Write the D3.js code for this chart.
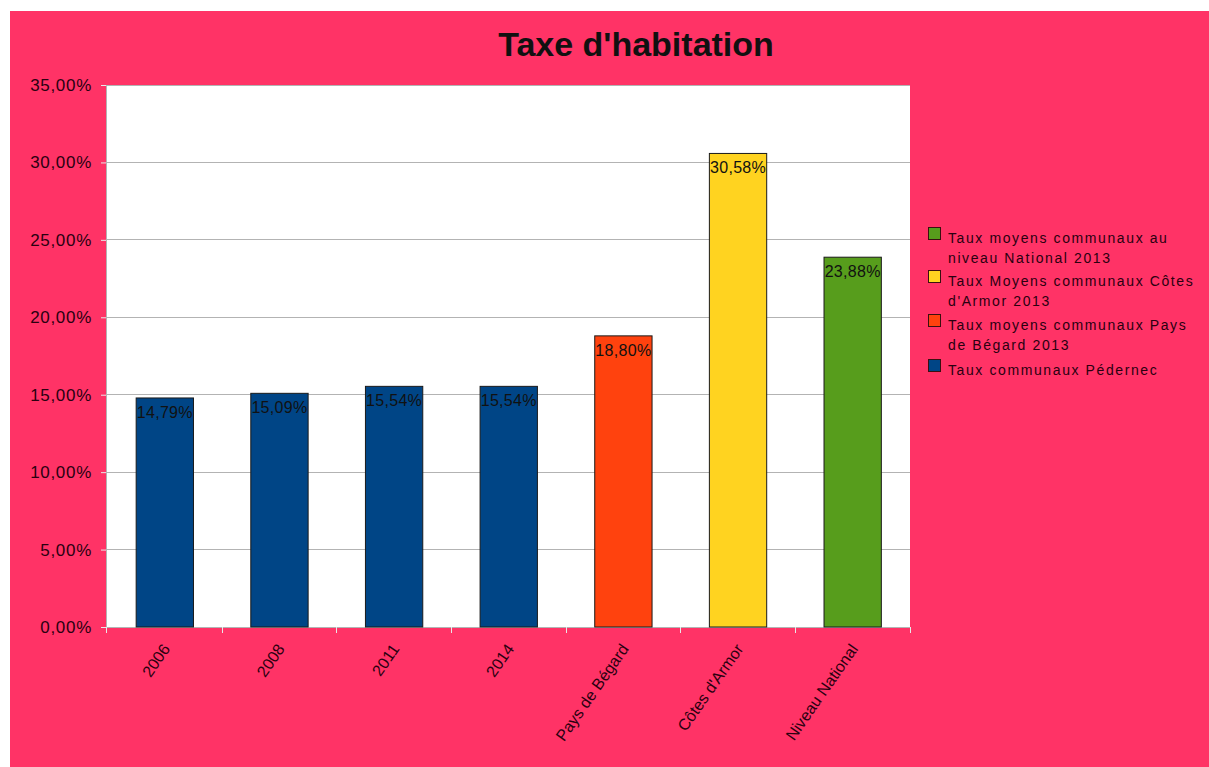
<!DOCTYPE html>
<html>
<head>
<meta charset="utf-8">
<script src="https://cdn.jsdelivr.net/npm/d3@7"></script>
<style>
  html, body { margin: 0; padding: 0; background: #ffffff; }
  svg { display: block; font-family: "Liberation Sans", Arial, sans-serif; }
</style>
</head>
<body>
<svg id="chart" width="1209" height="767"></svg>
<script>
// Categories along the x axis and their rates
const categories = ["2006", "2008", "2011", "2014", "Pays de Bégard", "Côtes d'Armor", "Niveau National"];
const rates = [0.1479, 0.1509, 0.1554, 0.1554, 0.1880, 0.3058, 0.2388];
// Series each category belongs to (index into seriesNames)
const seriesOfCategory = [3, 3, 3, 3, 2, 1, 0];
const seriesNames = [
  ["Taux moyens communaux au", "niveau National 2013"],
  ["Taux Moyens communaux Côtes", "d'Armor 2013"],
  ["Taux moyens communaux Pays", "de Bégard 2013"],
  ["Taux communaux Pédernec"]
];
const seriesColors = ["#579d1c", "#ffd320", "#ff420e", "#004586"];
const yTicks = [0, 0.05, 0.10, 0.15, 0.20, 0.25, 0.30, 0.35];

const locale = d3.formatLocale({ decimal: ",", thousands: " ", grouping: [3], currency: ["", " €"] });
const pct = locale.format(".2%");

const svg = d3.select("#chart");
const W = 1209, H = 767;

// Pink frame
svg.append("rect").attr("x", 10).attr("y", 11).attr("width", W - 10).attr("height", H - 11)
  .attr("fill", "#ff3366");

const plot = { left: 106, right: 910, top: 85, bottom: 627 };

const x = d3.scaleBand().domain(categories).range([plot.left + 1.5, plot.right]).paddingInner(0.5).paddingOuter(0.25);
const y = d3.scaleLinear().domain([0, 0.35]).range([plot.bottom, plot.top]);

// Plot area
svg.append("rect").attr("x", plot.left).attr("y", plot.top)
  .attr("width", plot.right - plot.left).attr("height", plot.bottom - plot.top)
  .attr("fill", "#ffffff");

// Gridlines
svg.append("g").selectAll("line").data(yTicks.slice(1)).join("line")
  .attr("x1", plot.left).attr("x2", plot.right)
  .attr("y1", d => y(d)).attr("y2", d => y(d))
  .attr("stroke", "#b3b3b3").attr("stroke-width", 1).attr("shape-rendering", "crispEdges");

// Y axis
const yAxis = svg.append("g").attr("transform", `translate(${plot.left},0)`)
  .call(d3.axisLeft(y).tickValues(yTicks).tickFormat(pct).tickSize(5).tickPadding(9));
yAxis.select(".domain").attr("stroke", "#b3b3b3").attr("shape-rendering", "crispEdges");
yAxis.selectAll(".tick line").attr("stroke", "#e8e8e8");
yAxis.selectAll(".tick text").attr("font-size", 17).attr("fill", "#2a0010")
  .attr("letter-spacing", 0.7).attr("font-family", "Liberation Sans, Arial, sans-serif");

// X axis: ticks on band boundaries
const bandEdges = [plot.left].concat(categories.slice(1).map(c => x(c) - x.step() * x.paddingInner() / 2)).concat([plot.right]);
svg.append("line").attr("x1", plot.left).attr("x2", plot.right)
  .attr("y1", plot.bottom + 0.5).attr("y2", plot.bottom + 0.5).attr("stroke", "#b3b3b3");
svg.append("g").selectAll("line").data(bandEdges).join("line")
  .attr("x1", d => d).attr("x2", d => d)
  .attr("y1", plot.bottom).attr("y2", plot.bottom + 6)
  .attr("stroke", "#e8e8e8").attr("shape-rendering", "crispEdges");

svg.append("g").selectAll("text").data(categories).join("text")
  .attr("transform", d => `translate(${x(d) + x.bandwidth() / 2 + 6},${plot.bottom + 22}) rotate(-55)`)
  .attr("text-anchor", "end")
  .attr("font-size", 16)
  .attr("fill", "#2a0010")
  .text(d => d);

// Bars
svg.append("g").selectAll("rect").data(categories).join("rect")
  .attr("x", d => x(d)).attr("width", x.bandwidth())
  .attr("y", (d, i) => y(rates[i]))
  .attr("height", (d, i) => y(0) - y(rates[i]))
  .attr("fill", (d, i) => seriesColors[seriesOfCategory[i]])
  .attr("stroke", "#1a1a1a").attr("stroke-width", 1);

// Value labels at the top of each bar
svg.append("g").selectAll("text").data(categories).join("text")
  .attr("x", d => x(d) + x.bandwidth() / 2)
  .attr("y", (d, i) => y(rates[i]) + 20)
  .attr("text-anchor", "middle")
  .attr("font-size", 16)
  .attr("letter-spacing", 0.3)
  .attr("fill", "#111")
  .text((d, i) => pct(rates[i]));

// Title
svg.append("text").attr("x", 636).attr("y", 56).attr("text-anchor", "middle")
  .attr("font-size", 34).attr("font-weight", "bold").attr("fill", "#111")
  .text("Taxe d'habitation");

// Legend
const legendTops = [238, 281, 325, 370];
const legend = svg.append("g");
seriesNames.forEach((lines, i) => {
  const g = legend.append("g").attr("transform", `translate(928,${legendTops[i]})`);
  g.append("rect").attr("x", 0.5).attr("y", -10.5).attr("width", 12).attr("height", 12)
    .attr("fill", seriesColors[i]).attr("stroke", "#3a1010");
  lines.forEach((t, j) => {
    g.append("text").attr("x", 20).attr("y", 5 + j * 20)
      .attr("font-size", 14).attr("letter-spacing", 1.6).attr("fill", "#2a0010")
      .text(t);
  });
});
</script>
</body>
</html>
